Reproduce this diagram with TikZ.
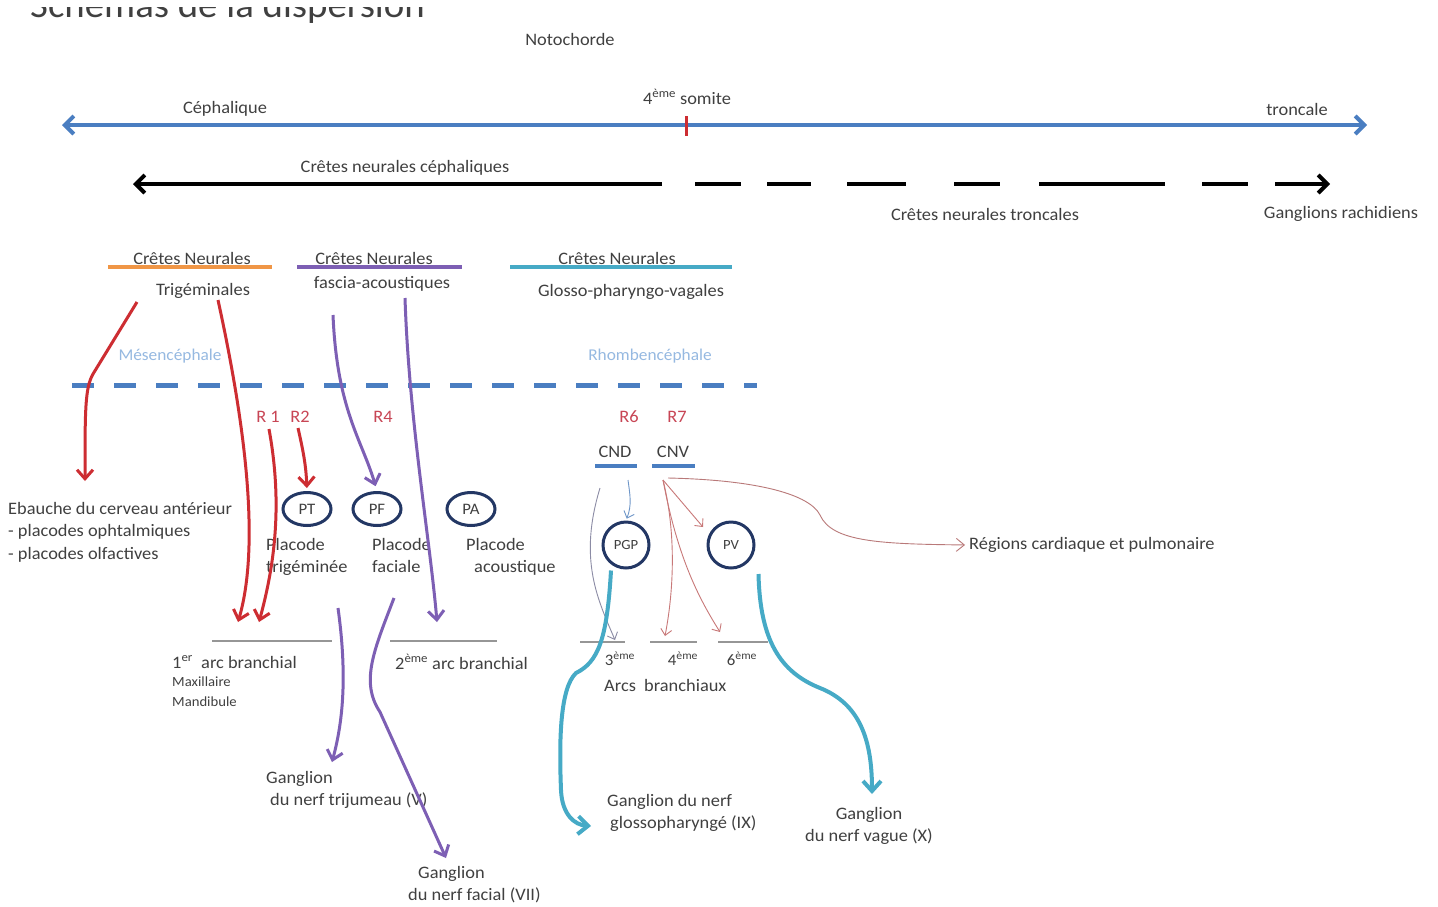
\documentclass[tikz,border=0pt]{standalone}
\usepackage{fontspec}
\setmainfont{Carlito}[FakeStretch=1.05]
\usetikzlibrary{arrows.meta,shapes.geometric}
\definecolor{txtgray}{RGB}{64,64,64}
\definecolor{axblue}{RGB}{74,126,193}
\definecolor{redc}{RGB}{205,45,50}
\definecolor{rlab}{RGB}{200,70,85}
\definecolor{purp}{RGB}{125,95,180}
\definecolor{tealc}{RGB}{70,170,198}
\definecolor{orangec}{RGB}{240,150,70}
\definecolor{navy}{RGB}{35,55,100}
\definecolor{lightblue}{RGB}{150,185,225}
\definecolor{arcgray}{RGB}{150,150,150}
\definecolor{thinred}{RGB}{200,120,120}
\definecolor{thinblue}{RGB}{110,150,200}
\definecolor{thingray}{RGB}{140,140,165}
\begin{document}
\begin{tikzpicture}[x=1pt,y=-1pt,
  txt/.style={font=\fontsize{17.5}{22.5}\selectfont, text=txtgray, inner sep=0pt},
  smalltxt/.style={font=\fontsize{14}{20}\selectfont, text=txtgray, inner sep=0pt},
  numtxt/.style={font=\fontsize{16}{20}\selectfont, text=txtgray, inner sep=0pt},
  rlbl/.style={font=\fontsize{17.5}{21}\selectfont, text=rlab, inner sep=0pt},
  region/.style={font=\fontsize{16.5}{20}\selectfont, text=lightblue, inner sep=0pt},
  plac/.style={ellipse, draw=navy, line width=3pt, minimum width=48pt, minimum height=33pt, inner sep=0pt, font=\fontsize{16}{18}\selectfont, text=txtgray},
  pcirc/.style={circle, draw=navy, line width=3pt, minimum size=46pt, inner sep=0pt, font=\fontsize{14}{16}\selectfont, text=txtgray},
  axisarr/.style={draw=axblue, line width=4pt, {Straight Barb[length=9pt,width=18pt]}-{Straight Barb[length=9pt,width=18pt]}},
  blkarr/.style={draw=black, line width=4pt},
  redarr/.style={draw=redc, line width=3pt, -{Straight Barb[length=9pt,width=16pt]}},
  purparr/.style={draw=purp, line width=3pt, -{Straight Barb[length=9pt,width=16pt]}},
  tealarr/.style={draw=tealc, line width=4pt, -{Straight Barb[length=10pt,width=18pt]}},
  thinarr/.style={line width=0.9pt, -{Straight Barb[length=6pt,width=11pt]}},
  arcline/.style={draw=arcgray, line width=1.2pt},
  hdrline/.style={line width=4pt}
]
\useasboundingbox (0,0) rectangle (1438,906);
\fill[white] (0,0) rectangle (1438,906);

% title (cut off at the top edge, as in the reference)
\begin{scope}
\clip (0,7) rectangle (1438,40);
\node[anchor=base west, font=\fontsize{37}{44}\selectfont, text=txtgray, inner sep=0pt] (title) at (30,17) {Schémas de la dispersion};
\end{scope}

% top axis
\node[txt] (noto) at (570,39) {Notochorde};
\node[txt] (ceph) at (225,109) {Céphalique};
\node[txt] (somite) at (687,97) {4\textsuperscript{ème} somite};
\node[txt] (tronc) at (1297,109) {troncale};
\coordinate (axL) at (62,125);
\coordinate (axR) at (1367,125);
\draw[axisarr] (axL) -- (axR);
\coordinate (tickT) at (686,116);
\coordinate (tickB) at (686,136);
\draw[redc, line width=3pt] (tickT) -- (tickB);

\node[txt] (cnc) at (405,168) {Crêtes neurales céphaliques};
\coordinate (cncR) at (662,184);
\coordinate (cncL) at (133,184);
\draw[blkarr, -{Straight Barb[length=9pt,width=18pt]}] (cncR) -- (cncL);
\coordinate (cntL) at (695,184);
\coordinate (cntR) at (1330,184);
\draw[blkarr, dash pattern=on 46pt off 26pt on 44pt off 36pt on 59pt off 48pt on 46pt off 39pt on 126pt off 37pt on 46pt off 27pt on 55pt, -{Straight Barb[length=9pt,width=18pt]}] (cntL) -- (cntR);
\node[txt] (cnt) at (985,214) {Crêtes neurales troncales};
\node[txt] (gr) at (1341,214) {Ganglions rachidiens};

% headers
\node[txt] (h1) at (192,258) {Crêtes Neurales};
\draw[orangec, hdrline] (108,267) -- (272,267);
\node[txt] (t1) at (203,291) {Trigéminales};
\node[txt] (h2) at (374,258) {Crêtes Neurales};
\draw[purp, hdrline] (297,267) -- (462,267);
\node[txt] (t2) at (382,284) {fascia-acoustiques};
\node[txt] (h3) at (617,258) {Crêtes Neurales};
\draw[tealc, hdrline] (510,267) -- (732,267);
\node[txt] (t3) at (631,292) {Glosso-pharyngo-vagales};

\node[region] (mes) at (170,356) {Mésencéphale};
\node[region] (rho) at (650,356) {Rhombencéphale};
\draw[axblue, line width=5pt, dash pattern=on 22pt off 20pt] (72,385) -- (757,385);

% R labels
\node[rlbl] (r1) at (268,417) {R 1};
\node[rlbl] (r2) at (300,417) {R2};
\node[rlbl] (r4) at (383,417) {R4};
\node[rlbl] (r6) at (629,417) {R6};
\node[rlbl] (r7) at (677,417) {R7};

% placodes
\node[plac] (PT) at (307,509) {PT};
\node[plac] (PF) at (377,509) {PF};
\node[plac] (PA) at (471,509) {PA};
\node[txt, anchor=north west, align=left] (lPT) at (266,538) {Placode\\trigéminée};
\node[txt, anchor=north west, align=left] (lPF) at (372,538) {Placode\\faciale};
\node[txt, anchor=north west, align=left] (lPA) at (466,538) {Placode\\\hspace{8pt}acoustique};

\node[txt, anchor=north west, align=left] (eb) at (8,502) {Ebauche du cerveau antérieur\\- placodes ophtalmiques\\- placodes olfactives};

% arcs
\coordinate (a1L) at (212,641); \coordinate (a1R) at (332,641);
\coordinate (a2L) at (390,641); \coordinate (a2R) at (497,641);
\coordinate (a3L) at (580,642); \coordinate (a3R) at (625,642);
\coordinate (a4L) at (650,642); \coordinate (a4R) at (697,642);
\coordinate (a5L) at (718,642); \coordinate (a5R) at (768,642);
\draw[arcline] (a1L) -- (a1R);
\draw[arcline] (a2L) -- (a2R);
\draw[arcline] (a3L) -- (a3R);
\draw[arcline] (a4L) -- (a4R);
\draw[arcline] (a5L) -- (a5R);
\node[txt, anchor=west] (arc1) at (172,662) {1\textsuperscript{er}\ \ arc branchial};
\node[smalltxt, anchor=north west, align=left] (maxm) at (172,677) {Maxillaire\\Mandibule};
\node[txt, anchor=west] (arc2) at (395,662) {2\textsuperscript{ème} arc branchial};
\node[numtxt] (n3) at (620,659) {3\textsuperscript{ème}};
\node[numtxt] (n4) at (683,659) {4\textsuperscript{ème}};
\node[numtxt] (n6) at (742,659) {6\textsuperscript{ème}};
\node[txt, anchor=west] (arcsb) at (604,685) {Arcs\ \ branchiaux};

% CND / CNV
\node[txt] (CND) at (615,452) {CND};
\node[txt] (CNV) at (673,452) {CNV};
\draw[axblue, line width=3.5pt] (595,466) -- (637,466);
\draw[axblue, line width=3.5pt] (652,466) -- (695,466);
\node[pcirc] (PGP) at (626,545) {PGP};
\node[pcirc] (PV) at (731,545) {PV};
\node[txt, anchor=west] (reg) at (969,545) {Régions cardiaque et pulmonaire};

% ganglion labels
\node[txt, anchor=north west, align=left] (gV) at (266,771) {Ganglion\\\hspace{4pt}du nerf trijumeau (V)};
\node[txt, anchor=north west, align=left] (gVII) at (408,866) {\hspace{10pt}Ganglion\\du nerf facial (VII)};
\node[txt, anchor=north west, align=left] (gIX) at (607,794) {Ganglion du nerf\\\hspace{3pt}glossopharyngé (IX)};
\node[txt, align=center] (gX) at (869,826) {Ganglion\\du nerf vague (X)};

% red arrows
\coordinate (tA) at (137,302);
\coordinate (tAk) at (93,374);
\coordinate (ebTop) at (85,481);
\draw[redarr] (tA) -- (tAk) .. controls (85,388) and (85,410) .. (ebTop);
\coordinate (tB) at (218,300);
\coordinate (arc1a) at (238,622);
\draw[redarr] (tB) .. controls (242,410) and (262,540) .. (arc1a);
\coordinate (r1s) at (269,429);
\coordinate (arc1b) at (259,622);
\draw[redarr] (r1s) .. controls (282,500) and (276,560) .. (arc1b);
\coordinate (r2s) at (298,428);
\draw[redarr, shorten >=3pt] (r2s) .. controls (303,450) and (306,465) .. (PT.north);

% purple arrows
\coordinate (fA) at (333,315);
\draw[purparr, shorten >=5pt] (fA) .. controls (337,410) and (362,440) .. (PF.north);
\coordinate (fB) at (405,298);
\coordinate (arc2a) at (437,622);
\draw[purparr] (fB) .. controls (409,420) and (430,540) .. (arc2a);
\coordinate (pfA) at (338,608);
\coordinate (gVt) at (332,762);
\draw[purparr] (pfA) .. controls (348,680) and (342,725) .. (gVt);
\coordinate (pfB) at (394,598);
\coordinate (pfK) at (380,712);
\coordinate (gVIIt) at (446,858);
\draw[purparr] (pfB) .. controls (374,650) and (360,682) .. (pfK) -- (gVIIt);

% thin arrows from CND / CNV
\coordinate (cndA) at (600,488);
\coordinate (arc3a) at (615,640);
\draw[thinarr, draw=thingray] (cndA) .. controls (578,560) and (598,600) .. (arc3a);
\coordinate (cndB) at (628,480);
\draw[thinarr, draw=thinblue, shorten >=2pt] (cndB) .. controls (630,495) and (632,505) .. (PGP.north);
\coordinate (cnvA) at (663,480);
\draw[thinarr, draw=thinred] (cnvA) -- (703,527);
\coordinate (arc4a) at (665,636);
\draw[thinarr, draw=thinred] (cnvA) .. controls (678,540) and (672,600) .. (arc4a);
\coordinate (arc6a) at (720,632);
\draw[thinarr, draw=thinred] (cnvA) .. controls (678,560) and (700,600) .. (arc6a);
\coordinate (cnvB) at (668,478);
\coordinate (regK) at (820,515);
\draw[thinarr, draw=thinred!80!gray, -{Straight Barb[length=8pt,width=13pt]}, shorten >=4pt] (cnvB) .. controls (760,480) and (810,495) .. (regK) .. controls (832,542) and (880,544) .. (reg.west);

% teal arrows
\coordinate (gIXt) at (591,826);
\draw[tealarr] (PGP.south) ++(-15,1) .. controls (607,640) and (598,662) .. (576,673) .. controls (560,688) and (559,740) .. (561,790) .. controls (562,815) and (575,825) .. (gIXt);
\coordinate (gXt) at (872,794);
\draw[tealarr] (PV.east) ++(3,29) .. controls (760,640) and (780,672) .. (820,688) .. controls (860,704) and (872,740) .. (gXt);
\end{tikzpicture}
\end{document}
